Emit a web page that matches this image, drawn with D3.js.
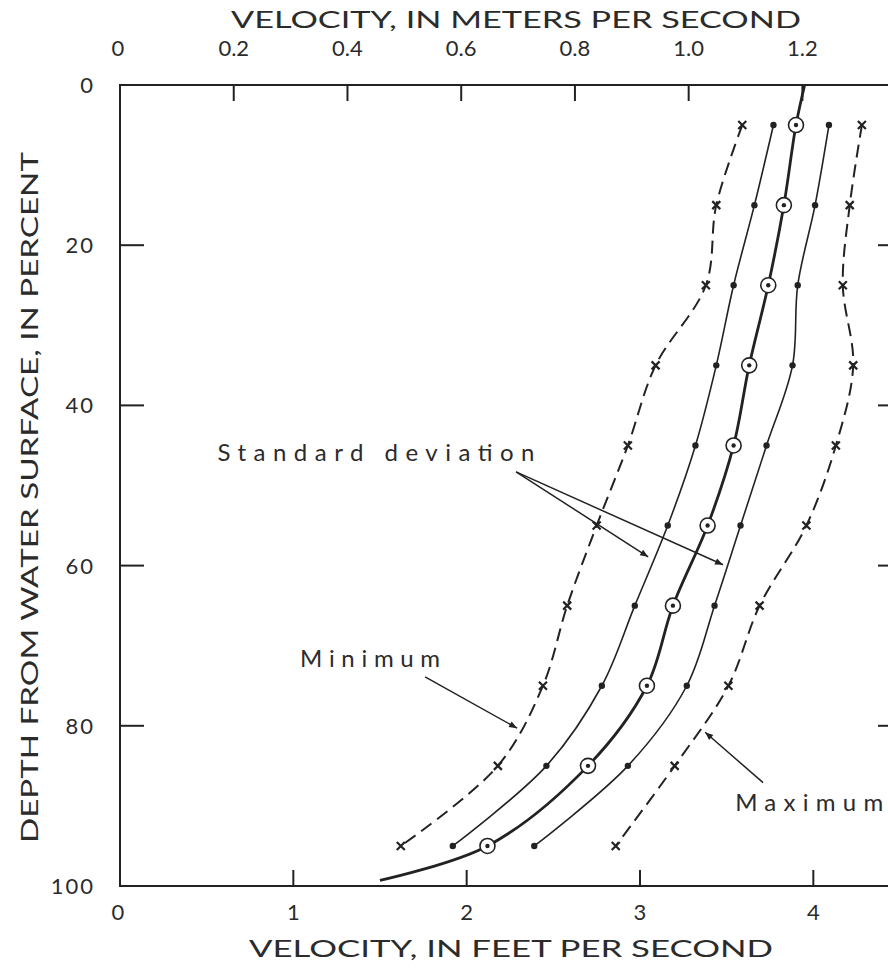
<!DOCTYPE html>
<html>
<head>
<meta charset="utf-8">
<script src="https://cdn.jsdelivr.net/npm/d3@7"></script>
<style>
  body { margin: 0; background: #fff; }
  svg text { font-family: "Lato", "DejaVu Sans", sans-serif; fill: #2b2b2b; }
</style>
</head>
<body>
<svg id="chart"></svg>
<script>
// depth below water surface (percent) of each measured point
var depths = [5, 15, 25, 35, 45, 55, 65, 75, 85, 95];

// velocities in feet per second
var meanVel    = [3.90, 3.83, 3.74, 3.63, 3.54, 3.39, 3.19, 3.04, 2.70, 2.12];
var stdLowVel  = [3.77, 3.66, 3.54, 3.44, 3.32, 3.16, 2.97, 2.78, 2.46, 1.92];
var stdHighVel = [4.09, 4.01, 3.91, 3.88, 3.73, 3.58, 3.43, 3.27, 2.93, 2.39];
var minVel     = [3.59, 3.44, 3.38, 3.09, 2.93, 2.75, 2.58, 2.44, 2.18, 1.62];
var maxVel     = [4.28, 4.21, 4.17, 4.23, 4.13, 3.96, 3.69, 3.51, 3.20, 2.86];

// mean curve is drawn past the points up to the surface and down near the bed
var meanTop = [0, 3.95];
var meanBottom = [99.3, 1.50];

var ftTicks = [0, 1, 2, 3, 4];
var mTicks = [0, 0.2, 0.4, 0.6, 0.8, 1.0, 1.2];
var depthTicks = [0, 20, 40, 60, 80, 100];
var FT_PER_M = 3.2808;

var svg = d3.select("#chart").attr("width", 888).attr("height", 968);

var x = d3.scaleLinear().domain([0, 4.5]).range([120, 900]);
var y = d3.scaleLinear().domain([0, 100]).range([85, 886]);

var ink = "#222";

svg.append("defs").append("marker")
    .attr("id", "arrow")
    .attr("viewBox", "0 -5 10 10")
    .attr("refX", 10)
    .attr("refY", 0)
    .attr("markerWidth", 11)
    .attr("markerHeight", 8)
    .attr("markerUnits", "userSpaceOnUse")
    .attr("orient", "auto")
  .append("path")
    .attr("d", "M0,-4L10,0L0,4Z")
    .attr("fill", ink);

// frame
var frame = svg.append("g").attr("stroke", ink).attr("stroke-width", 2).attr("fill", "none");
frame.append("rect")
    .attr("x", x(0)).attr("y", y(0))
    .attr("width", x(4.5) - x(0)).attr("height", y(100) - y(0));

// inward ticks
frame.selectAll(".bt").data(ftTicks.slice(1)).enter().append("line")
    .attr("x1", function(d) { return x(d); }).attr("x2", function(d) { return x(d); })
    .attr("y1", y(100)).attr("y2", y(100) - 16);
frame.selectAll(".tt").data(mTicks.slice(1)).enter().append("line")
    .attr("x1", function(d) { return x(d * FT_PER_M); }).attr("x2", function(d) { return x(d * FT_PER_M); })
    .attr("y1", y(0)).attr("y2", y(0) + 16);
frame.selectAll(".lt").data(depthTicks.slice(1, -1)).enter().append("line")
    .attr("x1", x(0)).attr("x2", x(0) + 24)
    .attr("y1", function(d) { return y(d); }).attr("y2", function(d) { return y(d); });
frame.selectAll(".rt").data(depthTicks.slice(1, -1)).enter().append("line")
    .attr("x1", x(4.5)).attr("x2", x(4.5) - 22)
    .attr("y1", function(d) { return y(d); }).attr("y2", function(d) { return y(d); });

// tick labels
svg.selectAll(".bl").data(ftTicks).enter().append("text")
    .attr("x", function(d) { return x(d) - (d === 0 ? 2 : 0); })
    .attr("y", 920).attr("text-anchor", "middle")
    .style("font-size", "22px")
    .text(function(d) { return d; });
svg.selectAll(".tl").data(mTicks).enter().append("text")
    .attr("x", function(d) { return x(d * FT_PER_M) - (d === 0 ? 2 : 0); })
    .attr("y", 56).attr("text-anchor", "middle")
    .style("font-size", "22px")
    .text(function(d) { return d === 0 ? "0" : d3.format(".1f")(d); });
svg.selectAll(".ll").data(depthTicks).enter().append("text")
    .attr("x", 95).attr("y", function(d) { return y(d) + 8; })
    .attr("text-anchor", "end")
    .style("font-size", "22px").style("letter-spacing", "2px")
    .text(function(d) { return d; });

// axis titles
svg.append("text")
    .attr("x", 231).attr("y", 28)
    .attr("textLength", 570).attr("lengthAdjust", "spacingAndGlyphs")
    .style("font-size", "23px")
    .text("VELOCITY, IN METERS PER SECOND");
svg.append("text")
    .attr("x", 249).attr("y", 957)
    .attr("textLength", 524).attr("lengthAdjust", "spacingAndGlyphs")
    .style("font-size", "23px")
    .text("VELOCITY, IN FEET PER SECOND");
svg.append("text")
    .attr("transform", "translate(38,843) rotate(-90)")
    .attr("textLength", 691).attr("lengthAdjust", "spacingAndGlyphs")
    .style("font-size", "23px")
    .text("DEPTH FROM WATER SURFACE, IN PERCENT");

// curves
var line = d3.line()
    .x(function(d) { return x(d[1]); })
    .y(function(d) { return y(d[0]); })
    .curve(d3.curveCatmullRom.alpha(0.5));

function pts(vals) { return depths.map(function(d, i) { return [d, vals[i]]; }); }

var series = [
  { vals: minVel,     width: 2,   dash: "13,7", marker: "x" },
  { vals: maxVel,     width: 2,   dash: "13,7", marker: "x" },
  { vals: stdLowVel,  width: 1.6, dash: null,   marker: "dot" },
  { vals: stdHighVel, width: 1.6, dash: null,   marker: "dot" },
  { vals: meanVel,    width: 2.8, dash: null,   marker: "ring" }
];

series.forEach(function(s) {
  var p = pts(s.vals);
  if (s.marker === "ring") p = [meanTop].concat(p, [meanBottom]);
  svg.append("path")
    .attr("d", line(p))
    .attr("fill", "none")
    .attr("stroke", ink)
    .attr("stroke-width", s.width)
    .attr("stroke-dasharray", s.dash);

  var g = svg.append("g").selectAll("g").data(pts(s.vals)).enter().append("g")
    .attr("transform", function(d) { return "translate(" + x(d[1]) + "," + y(d[0]) + ")"; });
  if (s.marker === "x") {
    g.append("path").attr("d", "M-4,-4L4,4M-4,4L4,-4")
      .attr("stroke", ink).attr("stroke-width", 2.2);
  } else if (s.marker === "dot") {
    g.append("circle").attr("r", 3.2).attr("fill", ink);
  } else {
    g.append("circle").attr("r", 7.5).attr("fill", "#fff")
      .attr("stroke", ink).attr("stroke-width", 1.6);
    g.append("circle").attr("r", 2.2).attr("fill", ink);
  }
});

// annotations (positions in chart units: [velocity ft/s, depth %])
var labels = [
  { text: "Standard deviation", at: [1.477, 47.0], len: 317 },
  { text: "Minimum", at: [1.443, 72.7], len: 140 },
  { text: "Maximum", at: [3.976, 90.6], len: 148 }
];
var arrows = [
  { from: [2.285, 48.3], to: [3.047, 58.9] },
  { from: [2.285, 48.3], to: [3.479, 59.9] },
  { from: [1.76, 73.9],  to: [2.291, 80.3] },
  { from: [3.71, 87.1],  to: [3.376, 80.8] }
];

svg.selectAll(".lab").data(labels).enter().append("text")
    .attr("x", function(d) { return x(d.at[0]); })
    .attr("y", function(d) { return y(d.at[1]); })
    .attr("text-anchor", "middle")
    .attr("textLength", function(d) { return d.len; })
    .attr("lengthAdjust", "spacing")
    .style("font-size", "24px")
    .text(function(d) { return d.text; });

svg.selectAll(".arr").data(arrows).enter().append("line")
    .attr("x1", function(d) { return x(d.from[0]); })
    .attr("y1", function(d) { return y(d.from[1]); })
    .attr("x2", function(d) { return x(d.to[0]); })
    .attr("y2", function(d) { return y(d.to[1]); })
    .attr("stroke", ink).attr("stroke-width", 1.5)
    .attr("marker-end", "url(#arrow)");
</script>
</body>
</html>
